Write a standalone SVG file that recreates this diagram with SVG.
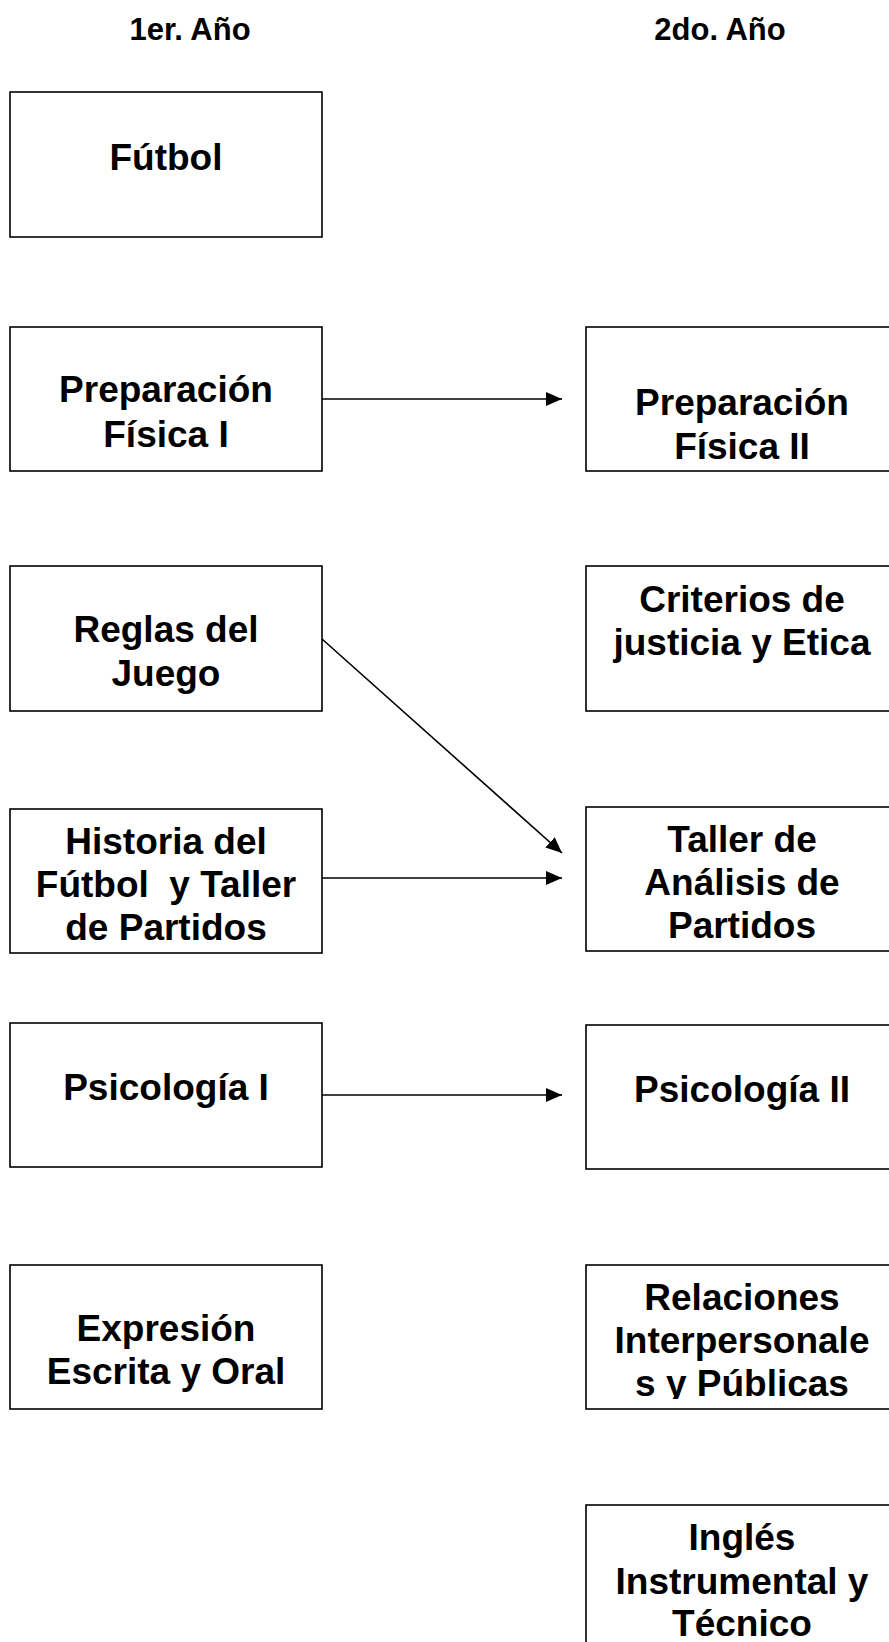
<svg xmlns="http://www.w3.org/2000/svg" width="889" height="1642" viewBox="0 0 889 1642">
<style>
.box{fill:#fff;stroke:#000;stroke-width:1.6}
.t{font-family:"Liberation Sans",Arial,sans-serif;font-weight:bold;font-size:37px;fill:#000;text-anchor:middle}
.h{font-family:"Liberation Sans",Arial,sans-serif;font-weight:bold;font-size:31px;fill:#000;text-anchor:middle}
.c{fill:none;stroke:#000;stroke-width:1.6}
</style>
<defs>
<marker id="ah" markerUnits="userSpaceOnUse" markerWidth="16" markerHeight="14" refX="16" refY="7" orient="auto">
<path d="M0,0 L16,7 L0,14 Z" fill="#000"/>
</marker>
<clipPath id="clipRel"><rect x="586" y="1265" width="313" height="134"/></clipPath>
</defs>
<rect width="889" height="1642" fill="#fff"/>
<g id="headers">
<text class="h" x="190" y="40">1er. Año</text>
<text class="h" x="720" y="40">2do. Año</text>
</g>
<g id="futbol"><rect class="box" x="10" y="92" width="312" height="145"/><text class="t" x="166" y="170">Fútbol</text></g>
<g id="prep1"><rect class="box" x="10" y="327" width="312" height="144"/><text class="t" x="166" y="402">Preparación</text><text class="t" x="166" y="447">Física I</text></g>
<g id="prep2"><rect class="box" x="586" y="327" width="313" height="144"/><text class="t" x="742" y="415">Preparación</text><text class="t" x="742" y="459">Física II</text></g>
<g id="reglas"><rect class="box" x="10" y="566" width="312" height="145"/><text class="t" x="166" y="642">Reglas del</text><text class="t" x="166" y="686">Juego</text></g>
<g id="criterios"><rect class="box" x="586" y="566" width="313" height="145"/><text class="t" x="742" y="612">Criterios de</text><text class="t" x="742" y="655">justicia y Etica</text></g>
<g id="historia"><rect class="box" x="10" y="809" width="312" height="144"/><text class="t" x="166" y="854">Historia del</text><text class="t" x="166" y="897" xml:space="preserve">Fútbol  y Taller</text><text class="t" x="166" y="940">de Partidos</text></g>
<g id="taller"><rect class="box" x="586" y="807" width="313" height="144"/><text class="t" x="742" y="852">Taller de</text><text class="t" x="742" y="895">Análisis de</text><text class="t" x="742" y="938">Partidos</text></g>
<g id="psico1"><rect class="box" x="10" y="1023" width="312" height="144"/><text class="t" x="166" y="1100">Psicología I</text></g>
<g id="psico2"><rect class="box" x="586" y="1025" width="313" height="144"/><text class="t" x="742" y="1102">Psicología II</text></g>
<g id="expresion"><rect class="box" x="10" y="1265" width="312" height="144"/><text class="t" x="166" y="1341">Expresión</text><text class="t" x="166" y="1384">Escrita y Oral</text></g>
<g id="relaciones"><rect class="box" x="586" y="1265" width="313" height="144"/><g clip-path="url(#clipRel)"><text class="t" x="742" y="1310">Relaciones</text><text class="t" x="742" y="1353">Interpersonale</text><text class="t" x="742" y="1396">s y Públicas</text></g></g>
<g id="ingles"><rect class="box" x="586" y="1505" width="313" height="150"/><text class="t" x="742" y="1550">Inglés</text><text class="t" x="742" y="1594">Instrumental y</text><text class="t" x="742" y="1636">Técnico</text></g>
<g id="connectors">
<line class="c" x1="322" y1="399" x2="562" y2="399" marker-end="url(#ah)"/>
<line class="c" x1="322" y1="639" x2="562" y2="853" marker-end="url(#ah)"/>
<line class="c" x1="322" y1="878" x2="562" y2="878" marker-end="url(#ah)"/>
<line class="c" x1="322" y1="1095" x2="562" y2="1095" marker-end="url(#ah)"/>
</g>
</svg>
